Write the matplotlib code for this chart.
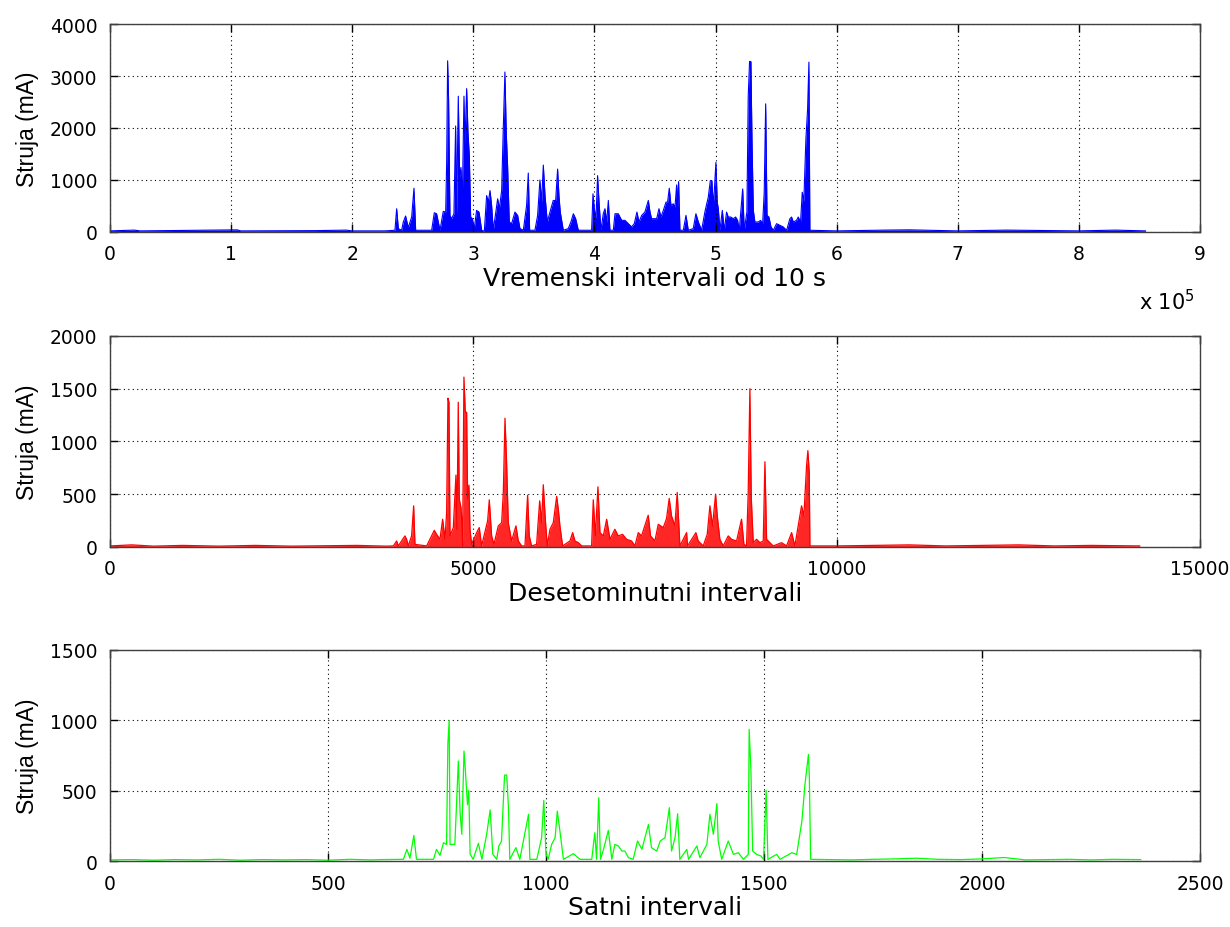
import matplotlib
matplotlib.use("Agg")
import matplotlib.pyplot as plt
from matplotlib.ticker import FuncFormatter

plt.rcParams['font.family'] = ['DejaVu Sans']

# --- 10 s intervals (top panel) ---
x_10s = [0, 20000, 25000, 105000, 108000, 170000, 195000, 200000, 227100,
         235300, 236700, 238100, 240800, 242200, 244100, 246300, 249100, 251000, 252400,
         265600, 267800, 269700, 271100, 272500, 275200, 277200, 278000, 278800, 279600,
         280700, 282100, 284000, 285400, 286200, 287600, 288700, 289800, 290900, 292300,
         293100, 294500, 295600, 296700, 297800, 299200, 300800, 302700, 304700, 306900,
         309100, 311000, 312400, 313800, 315100, 316500, 320100, 321500, 323400, 324800,
         326100, 327200, 328300, 329700, 331600, 334400, 336600, 338500, 341300, 344000,
         345400, 346500, 350900, 353100, 355000, 356400, 357800, 359200, 361100, 363300,
         366000, 368000, 369600, 370700, 371800, 374300, 378400, 380600, 382600, 384500,
         386700, 397700, 398800, 399900, 401300, 402600, 403800, 405400, 407300, 408700,
         410100, 411500, 412800, 415600, 417000, 419700, 422500, 425200, 428000, 430700,
         432900, 435100, 436800, 439000, 441700, 444500, 445900, 447200, 449400, 451400,
         453300, 454900, 456900, 459100, 460400, 461800, 463200, 465100, 466500, 467900,
         468700, 469500, 470600, 473400, 475600, 477500, 481600, 483800, 485800, 488500,
         491300, 494000, 495700, 497000, 498100, 499000, 500300, 501400, 502300, 503600,
         505600, 507200, 509100, 510500, 512500, 514700, 516600, 518200, 519600, 522400,
         523700, 525900, 527000, 528100, 529200, 530100, 531200, 532500, 535300, 537200,
         538900, 540200, 541400, 542500, 544100, 545800, 547700, 550400, 553200, 555900,
         558700, 561400, 562800, 564200, 566900, 568300, 570200, 571600, 572900, 574600,
         576000, 577100, 577900, 600000, 640000, 660000, 700000, 740000, 800000, 830000,
         855000]
y_10s = [20, 35, 20, 40, 20, 25, 35, 20, 20,
         32, 446, 64, 32, 191, 306, 83, 287, 841, 32,
         32, 369, 350, 191, 32, 395, 382, 1338, 3293, 2535,
         318, 255, 350, 2038, 318, 2612, 1051, 1242, 573, 2612,
         1688, 2758, 1911, 1465, 287, 255, 64, 414, 382, 32,
         13, 700, 573, 796, 510, 32, 637, 446, 796, 2038,
         3077, 1911, 1274, 191, 159, 382, 318, 64, 32, 510,
         1134, 32, 32, 318, 1000, 573, 1287, 700, 191, 382,
         605, 605, 1210, 700, 382, 32, 64, 191, 350, 255,
         32, 32, 733, 446, 255, 1083, 573, 32, 350, 446,
         191, 605, 32, 32, 350, 350, 223, 223, 159, 96,
         159, 382, 191, 318, 382, 605, 382, 255, 255, 255,
         446, 287, 414, 573, 573, 841, 510, 541, 478, 905,
         478, 968, 32, 32, 318, 32, 64, 350, 191, 32,
         395, 669, 987, 987, 510, 796, 1338, 573, 446, 32,
         414, 32, 382, 287, 287, 255, 287, 223, 32, 828,
         32, 382, 2612, 3280, 3280, 1752, 414, 191, 191, 223,
         159, 764, 2465, 318, 287, 96, 32, 159, 127, 96,
         32, 255, 287, 191, 223, 287, 191, 764, 586, 1784,
         2357, 3268, 32, 20, 35, 40, 20, 35, 20, 35,
         20]

# --- ten-minute intervals (middle panel) ---
x_10min = [0, 300, 600, 1000, 1500, 2000, 2500, 3400, 3800,
           3899, 3945, 3968, 4059, 4082, 4105, 4151, 4179, 4197, 4358,
           4463, 4495, 4541, 4578, 4610, 4633, 4651, 4665, 4679, 4725,
           4761, 4775, 4793, 4807, 4830, 4844, 4853, 4871, 4890, 4908,
           4922, 4940, 4954, 4977, 5046, 5082, 5114, 5197, 5220, 5252,
           5284, 5344, 5390, 5413, 5436, 5458, 5481, 5527, 5587, 5619,
           5665, 5711, 5747, 5770, 5802, 5871, 5913, 5940, 5963, 5991,
           6018, 6055, 6101, 6147, 6170, 6192, 6229, 6330, 6367, 6399,
           6445, 6491, 6628, 6651, 6679, 6715, 6743, 6789, 6835, 6881,
           6948, 6994, 7054, 7109, 7178, 7224, 7270, 7315, 7407, 7439,
           7499, 7545, 7614, 7659, 7696, 7728, 7774, 7806, 7843, 7935,
           7948, 8063, 8095, 8164, 8219, 8256, 8292, 8334, 8357, 8393,
           8439, 8508, 8554, 8623, 8691, 8724, 8760, 8783, 8806, 8825,
           8852, 8898, 8944, 8990, 9013, 9036, 9081, 9127, 9242, 9311,
           9380, 9425, 9517, 9549, 9586, 9604, 9623, 9632, 10000, 10500,
           11000, 11500, 12000, 12500, 13000, 13500, 14170]
y_10min = [10, 20, 8, 15, 8, 15, 8, 15, 8,
           10, 57, 10, 105, 73, 10, 105, 390, 25, 10,
           158, 120, 73, 263, 73, 326, 1410, 1372, 105, 184,
           681, 168, 1372, 453, 374, 231, 10, 1610, 1277, 1277,
           453, 586, 168, 25, 136, 184, 10, 247, 447, 105,
           25, 200, 231, 517, 1220, 802, 231, 57, 200, 57,
           10, 10, 491, 105, 10, 25, 437, 231, 590, 263,
           10, 168, 231, 479, 358, 200, 10, 57, 136, 57,
           41, 10, 10, 447, 105, 570, 136, 105, 263, 73,
           168, 105, 120, 73, 57, 10, 136, 105, 301, 105,
           57, 215, 184, 269, 460, 294, 200, 517, 10, 136,
           10, 136, 57, 10, 120, 390, 200, 501, 294, 73,
           10, 105, 73, 57, 263, 25, 10, 517, 1500, 469,
           41, 73, 41, 57, 808, 73, 41, 10, 41, 10,
           136, 10, 390, 294, 770, 913, 707, 10, 10, 15,
           20, 10, 15, 20, 10, 15, 10]

# --- hourly intervals (bottom panel) ---
x_hour = [1, 50, 100, 150, 200, 250, 300, 350, 400, 450, 500, 550, 600,
          619, 673, 681, 688, 697, 703, 742, 749, 757, 765, 772, 775,
          778, 780, 791, 799, 803, 807, 812, 815, 820, 823, 826, 833,
          845, 853, 864, 872, 878, 887, 892, 898, 905, 910, 914, 917,
          931, 940, 960, 963, 979, 990, 995, 1000, 1005, 1013, 1021, 1026,
          1032, 1040, 1063, 1078, 1105, 1112, 1116, 1121, 1125, 1132, 1143, 1151,
          1158, 1166, 1174, 1181, 1189, 1200, 1210, 1220, 1235, 1242, 1254, 1262,
          1273, 1283, 1288, 1296, 1302, 1307, 1323, 1327, 1346, 1353, 1369, 1376,
          1384, 1392, 1395, 1403, 1418, 1430, 1441, 1453, 1464, 1466, 1470, 1474,
          1483, 1493, 1499, 1505, 1509, 1529, 1537, 1564, 1575, 1587, 1594, 1602,
          1604, 1607, 1650, 1700, 1750, 1800, 1850, 1900, 1950, 2000, 2050, 2100,
          2150, 2200, 2250, 2300, 2364]
y_hour = [8, 10, 6, 10, 8, 12, 6, 10, 8, 10, 6, 12, 8,
          10, 12, 83, 20, 182, 12, 12, 83, 40, 130, 118, 834,
          1000, 118, 118, 711, 344, 190, 782, 652, 400, 502, 50, 12,
          126, 12, 190, 363, 50, 12, 107, 142, 611, 611, 379, 12,
          95, 12, 332, 12, 12, 166, 431, 50, 12, 118, 166, 355,
          213, 12, 52, 12, 12, 201, 12, 450, 12, 83, 218, 12,
          118, 107, 71, 71, 24, 12, 142, 83, 260, 95, 71, 142,
          166, 379, 71, 166, 336, 12, 83, 12, 107, 24, 118, 332,
          190, 408, 142, 12, 142, 47, 59, 12, 47, 936, 652, 71,
          47, 36, 12, 502, 12, 47, 12, 59, 47, 284, 545, 758,
          604, 12, 10, 8, 12, 15, 20, 12, 10, 15, 25, 8,
          10, 12, 8, 12, 10]

fig = plt.figure(figsize=(12.3, 9.28), dpi=100)
ax1 = fig.add_axes([0.0894, 0.749, 0.8862, 0.224])
ax2 = fig.add_axes([0.0894, 0.4095, 0.8862, 0.2274])
ax3 = fig.add_axes([0.0894, 0.0711, 0.8862, 0.2274])

ax1.fill_between(x_10s, y_10s, 0, color='#0000ff', linewidth=0)
ax1.plot(x_10s, y_10s, color='#0000ff', linewidth=0.8)
ax2.fill_between(x_10min, y_10min, 0, color='#ff0000', linewidth=0, alpha=0.85)
ax2.plot(x_10min, y_10min, color='#ff0000', linewidth=0.9)
ax3.plot(x_hour, y_hour, color='#00ff00', linewidth=0.9)

ax1.set_xlim(0, 900000)
ax1.set_ylim(0, 4000)
ax1.set_xticks([i * 100000 for i in range(10)])
ax1.set_yticks([0, 1000, 2000, 3000, 4000])
ax1.xaxis.set_major_formatter(FuncFormatter(lambda v, p: '%d' % round(v / 100000)))
ax1.text(0.944, -0.33, r'x 10$^5$', transform=ax1.transAxes, fontsize=15,
         ha='left', va='center')

ax2.set_xlim(0, 15000)
ax2.set_ylim(0, 2000)
ax2.set_xticks([0, 5000, 10000, 15000])
ax2.set_yticks([0, 500, 1000, 1500, 2000])

ax3.set_xlim(0, 2500)
ax3.set_ylim(0, 1500)
ax3.set_xticks([0, 500, 1000, 1500, 2000, 2500])
ax3.set_yticks([0, 500, 1000, 1500])

labels = ['Vremenski intervali od 10 s', 'Desetominutni intervali', 'Satni intervali']
for ax, lab in zip([ax1, ax2, ax3], labels):
    ax.grid(True, linestyle=(0, (1, 3)), color='black', linewidth=0.8)
    ax.tick_params(direction='in', length=6, width=1, labelsize=13.5,
                   top=True, right=True, pad=9)
    for s in ax.spines.values():
        s.set_color('#404040')
        s.set_linewidth(1)
    ax.set_xlabel(lab, fontsize=18, labelpad=2)
    ax.set_ylabel('Struja (mA)', fontsize=16.5, labelpad=8,
                  family=['Liberation Sans Narrow', 'Liberation Sans'])

fig.savefig('out.png', dpi=100)
